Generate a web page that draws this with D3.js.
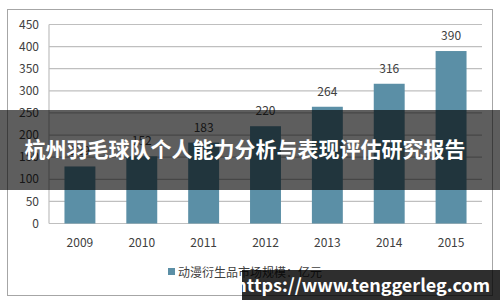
<!DOCTYPE html>
<html lang="zh">
<head>
<meta charset="UTF-8">
<title>动漫衍生品市场规模</title>
<style>
  body { margin: 0; background: #fff; }
  svg text { font-family: "Noto Sans CJK SC", "DejaVu Sans", sans-serif; }
</style>
<script src="https://d3js.org/d3.v7.min.js"></script>
</head>
<body>
<svg id="chart" width="500" height="300"></svg>
<script>
// data
var years = ["2009", "2010", "2011", "2012", "2013", "2014", "2015"];
var values = [129, 152, 183, 220, 264, 316, 390];
var yTicks = [0, 50, 100, 150, 200, 250, 300, 350, 400, 450];
var seriesName = "动漫衍生品市场规模：亿元";
var title = "杭州羽毛球队个人能力分析与表现评估研究报告";
var watermark = "https://www.tenggerleg.com";

(function() {
  var svg = d3.select("#chart");
  var plotLeft = 49, plotRight = 482, plotTop = 24.5, plotBottom = 223.5;

  // outer frame
  svg.append("rect")
    .attr("x", 7.5).attr("y", 9.5)
    .attr("width", 485).attr("height", 286)
    .attr("fill", "#fff").attr("stroke", "#a6a6a6");

  var x = d3.scaleBand().domain(years).range([plotLeft, plotRight]).paddingInner(0.5).paddingOuter(0.25);
  var y = d3.scaleLinear().domain([0, 450]).range([plotBottom, plotTop]);

  // gridlines
  svg.append("g").selectAll("line").data(yTicks).join("line")
    .attr("x1", plotLeft).attr("x2", plotRight)
    .attr("y1", function(d) { return y(d); }).attr("y2", function(d) { return y(d); })
    .attr("stroke", "#bfbfbf").attr("stroke-width", 1.2);

  // y axis line
  svg.append("line")
    .attr("x1", plotLeft).attr("x2", plotLeft).attr("y1", plotTop).attr("y2", plotBottom)
    .attr("stroke", "#bfbfbf").attr("stroke-width", 1.2);

  // y labels
  svg.append("g").selectAll("text").data(yTicks).join("text")
    .attr("x", 39).attr("y", function(d) { return y(d); })
    .attr("dy", "0.35em").attr("text-anchor", "end")
    .attr("font-size", 12).attr("fill", "#404040")
    .text(function(d) { return d; });

  // bars
  svg.append("g").selectAll("rect").data(values).join("rect")
    .attr("x", function(d, i) { return x(years[i]); })
    .attr("y", function(d) { return y(d); })
    .attr("width", x.bandwidth())
    .attr("height", function(d) { return y(0) - y(d); })
    .attr("fill", "#5b8fa6");

  // value labels
  svg.append("g").selectAll("text").data(values).join("text")
    .attr("x", function(d, i) { return x(years[i]) + x.bandwidth() / 2; })
    .attr("y", function(d) { return y(d) - 11; })
    .attr("text-anchor", "middle")
    .attr("font-size", 12).attr("fill", "#404040")
    .text(function(d) { return d; });

  // x labels
  svg.append("g").selectAll("text").data(years).join("text")
    .attr("x", function(d) { return x(d) + x.bandwidth() / 2; })
    .attr("y", 247)
    .attr("text-anchor", "middle")
    .attr("font-size", 12).attr("fill", "#404040")
    .text(function(d) { return d; });

  // legend
  svg.append("rect").attr("x", 168).attr("y", 268).attr("width", 7).attr("height", 7).attr("fill", "#5b8fa6");
  svg.append("text").attr("x", 178).attr("y", 276.5)
    .attr("font-size", 12).attr("fill", "#404040").text(seriesName);

  // overlay band with title
  svg.append("rect").attr("x", 0).attr("y", 110).attr("width", 500).attr("height", 80)
    .attr("fill", "rgba(0,0,0,0.63)");
  svg.append("text").attr("x", 245).attr("y", 150)
    .attr("dy", "0.35em").attr("text-anchor", "middle")
    .attr("font-size", 21).attr("font-weight", "bold").attr("fill", "#fff")
    .text(title);

  // watermark
  svg.append("rect").attr("x", 242).attr("y", 270).attr("width", 258).attr("height", 30)
    .attr("fill", "rgba(0,0,0,0.82)");
  svg.append("text").attr("x", 490).attr("y", 286)
    .attr("dy", "0.35em").attr("text-anchor", "end")
    .attr("font-size", 18).attr("font-weight", "bold").attr("fill", "#fff")
    .attr("font-family", "DejaVu Sans, sans-serif")
    .text(watermark);
})();
</script>
</body>
</html>
